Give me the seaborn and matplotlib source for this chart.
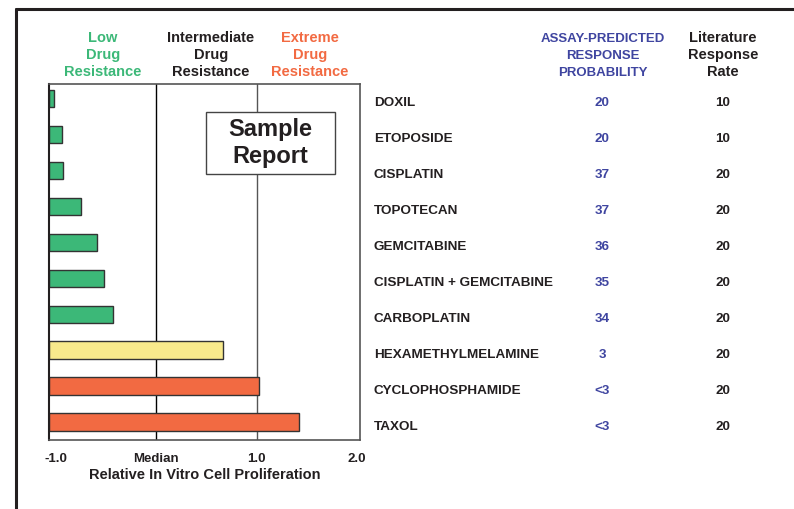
import matplotlib as mpl
import matplotlib.pyplot as plt
import matplotlib.transforms as mtransforms
from matplotlib.lines import Line2D
from matplotlib.patches import Rectangle
import pandas as pd
import seaborn as sns

drugs = ["DOXIL", "ETOPOSIDE", "CISPLATIN", "TOPOTECAN", "GEMCITABINE",
         "CISPLATIN + GEMCITABINE", "CARBOPLATIN", "HEXAMETHYLMELAMINE",
         "CYCLOPHOSPHAMIDE", "TAXOL"]
proliferation = [-1.02, -0.94, -0.93, -0.75, -0.59, -0.52, -0.43, 0.66, 1.02, 1.42]
resistance = ["low", "low", "low", "low", "low", "low", "low",
              "intermediate", "extreme", "extreme"]
assay_prob = ["20", "20", "37", "37", "36", "35", "34", "3", "<3", "<3"]
literature_rate = ["10", "10", "20", "20", "20", "20", "20", "20", "20", "20"]
tick_values = [-1.0, 0.0, 1.0, 2.0]
tick_labels = ["-1.0", "Median", "1.0", "2.0"]

GREEN = "#3cb878"
YELLOW = "#f8ea8c"
ORANGE = "#f26a42"
BLUE = "#3f45a0"
DARK = "#231f20"
colors = {"low": GREEN, "intermediate": YELLOW, "extreme": ORANGE}

X_MIN, X_MAX = -1.07, 2.03

sns.set_style("white")
plt.rcParams['font.family'] = ['Liberation Sans', 'DejaVu Sans']
plt.rcParams['font.weight'] = 'bold'

# bars grow from the left edge of the axis, so shift values by the axis minimum
df = pd.DataFrame({
    "drug": drugs,
    "width": [v - X_MIN for v in proliferation],
    "group": resistance,
})

fig = plt.figure(figsize=(7.94, 5.10), dpi=100)
ax = fig.add_axes([49 / 794, 1 - 441 / 510, 311 / 794, 356 / 510])

sns.barplot(data=df, x="width", y="drug", hue="group", palette=colors,
            order=drugs, orient="h", width=0.48, dodge=False, legend=False,
            saturation=1, edgecolor="#333333", linewidth=1.0, ax=ax)

ax.set_xlim(0, X_MAX - X_MIN)
ax.set_ylim(9.5, -0.4)
ax.axvline(0.0 - X_MIN, color="black", lw=1.0, zorder=0)
ax.axvline(1.0 - X_MIN, color="#555555", lw=1.0, zorder=0)

ax.set_xticks([t - X_MIN for t in tick_values])
ax.set_xticklabels(tick_labels, fontsize=9.5, fontweight="bold", color=DARK)
ax.tick_params(axis="x", length=0, pad=8.5)
ax.set_yticks([])
ax.set_ylabel("")
ax.set_xlabel("Relative In Vitro Cell Proliferation", fontsize=10.5,
              fontweight="bold", color=DARK, labelpad=2.5)
for side in ["top", "right", "bottom"]:
    ax.spines[side].set_color("#555555")
    ax.spines[side].set_linewidth(1.2)
ax.spines["left"].set_color(DARK)
ax.spines["left"].set_linewidth(1.5)

# sample report box
fig.add_artist(Rectangle((206 / 794, 1 - 175 / 510), 129 / 794, 62 / 510,
                         transform=fig.transFigure, fc="white", ec="#444444",
                         lw=1.0, zorder=5))
fig.text(270 / 794, 1 - 143 / 510, "Sample\nReport", ha="center", va="center",
         fontsize=17, fontweight="bold", color=DARK, linespacing=1.25,
         zorder=6)

# column headers
hdr = dict(ha="center", va="center", fontweight="bold")
fig.text(103 / 794, 1 - 55 / 510, "Low\nDrug\nResistance", color=GREEN,
         fontsize=10.5, linespacing=1.27, **hdr)
fig.text(211 / 794, 1 - 55 / 510, "Intermediate\nDrug\nResistance", color=DARK,
         fontsize=10.5, linespacing=1.27, **hdr)
fig.text(310 / 794, 1 - 55 / 510, "Extreme\nDrug\nResistance", color=ORANGE,
         fontsize=10.5, linespacing=1.27, **hdr)
fig.text(603 / 794, 1 - 56 / 510, "ASSAY-PREDICTED\nRESPONSE\nPROBABILITY",
         color=BLUE, fontsize=9.5, linespacing=1.6, **hdr)
fig.text(723 / 794, 1 - 55 / 510, "Literature\nResponse\nRate", color=DARK,
         fontsize=10.5, linespacing=1.27, **hdr)

# table rows aligned with bars
trans = mtransforms.blended_transform_factory(fig.transFigure, ax.transData)
for i, drug in enumerate(drugs):
    row_y = i + 0.1
    ax.text(374 / 794, row_y, drug, transform=trans, ha="left", va="center",
            fontsize=9.7, fontweight="bold", color=DARK, clip_on=False)
    ax.text(602 / 794, row_y, assay_prob[i], transform=trans, ha="center",
            va="center", fontsize=9.7, fontweight="bold", color=BLUE, clip_on=False)
    ax.text(723 / 794, row_y, literature_rate[i], transform=trans, ha="center",
            va="center", fontsize=9.7, fontweight="bold", color=DARK, clip_on=False)

# outer frame (top and left only)
fig.add_artist(Line2D([16 / 794, 1.0], [1 - 10 / 510, 1 - 10 / 510],
                      transform=fig.transFigure, color=DARK, lw=2.2))
fig.add_artist(Line2D([16 / 794, 16 / 794], [0.0, 1 - 10 / 510],
                      transform=fig.transFigure, color=DARK, lw=2.2))

fig.savefig("out.png", dpi=100)
